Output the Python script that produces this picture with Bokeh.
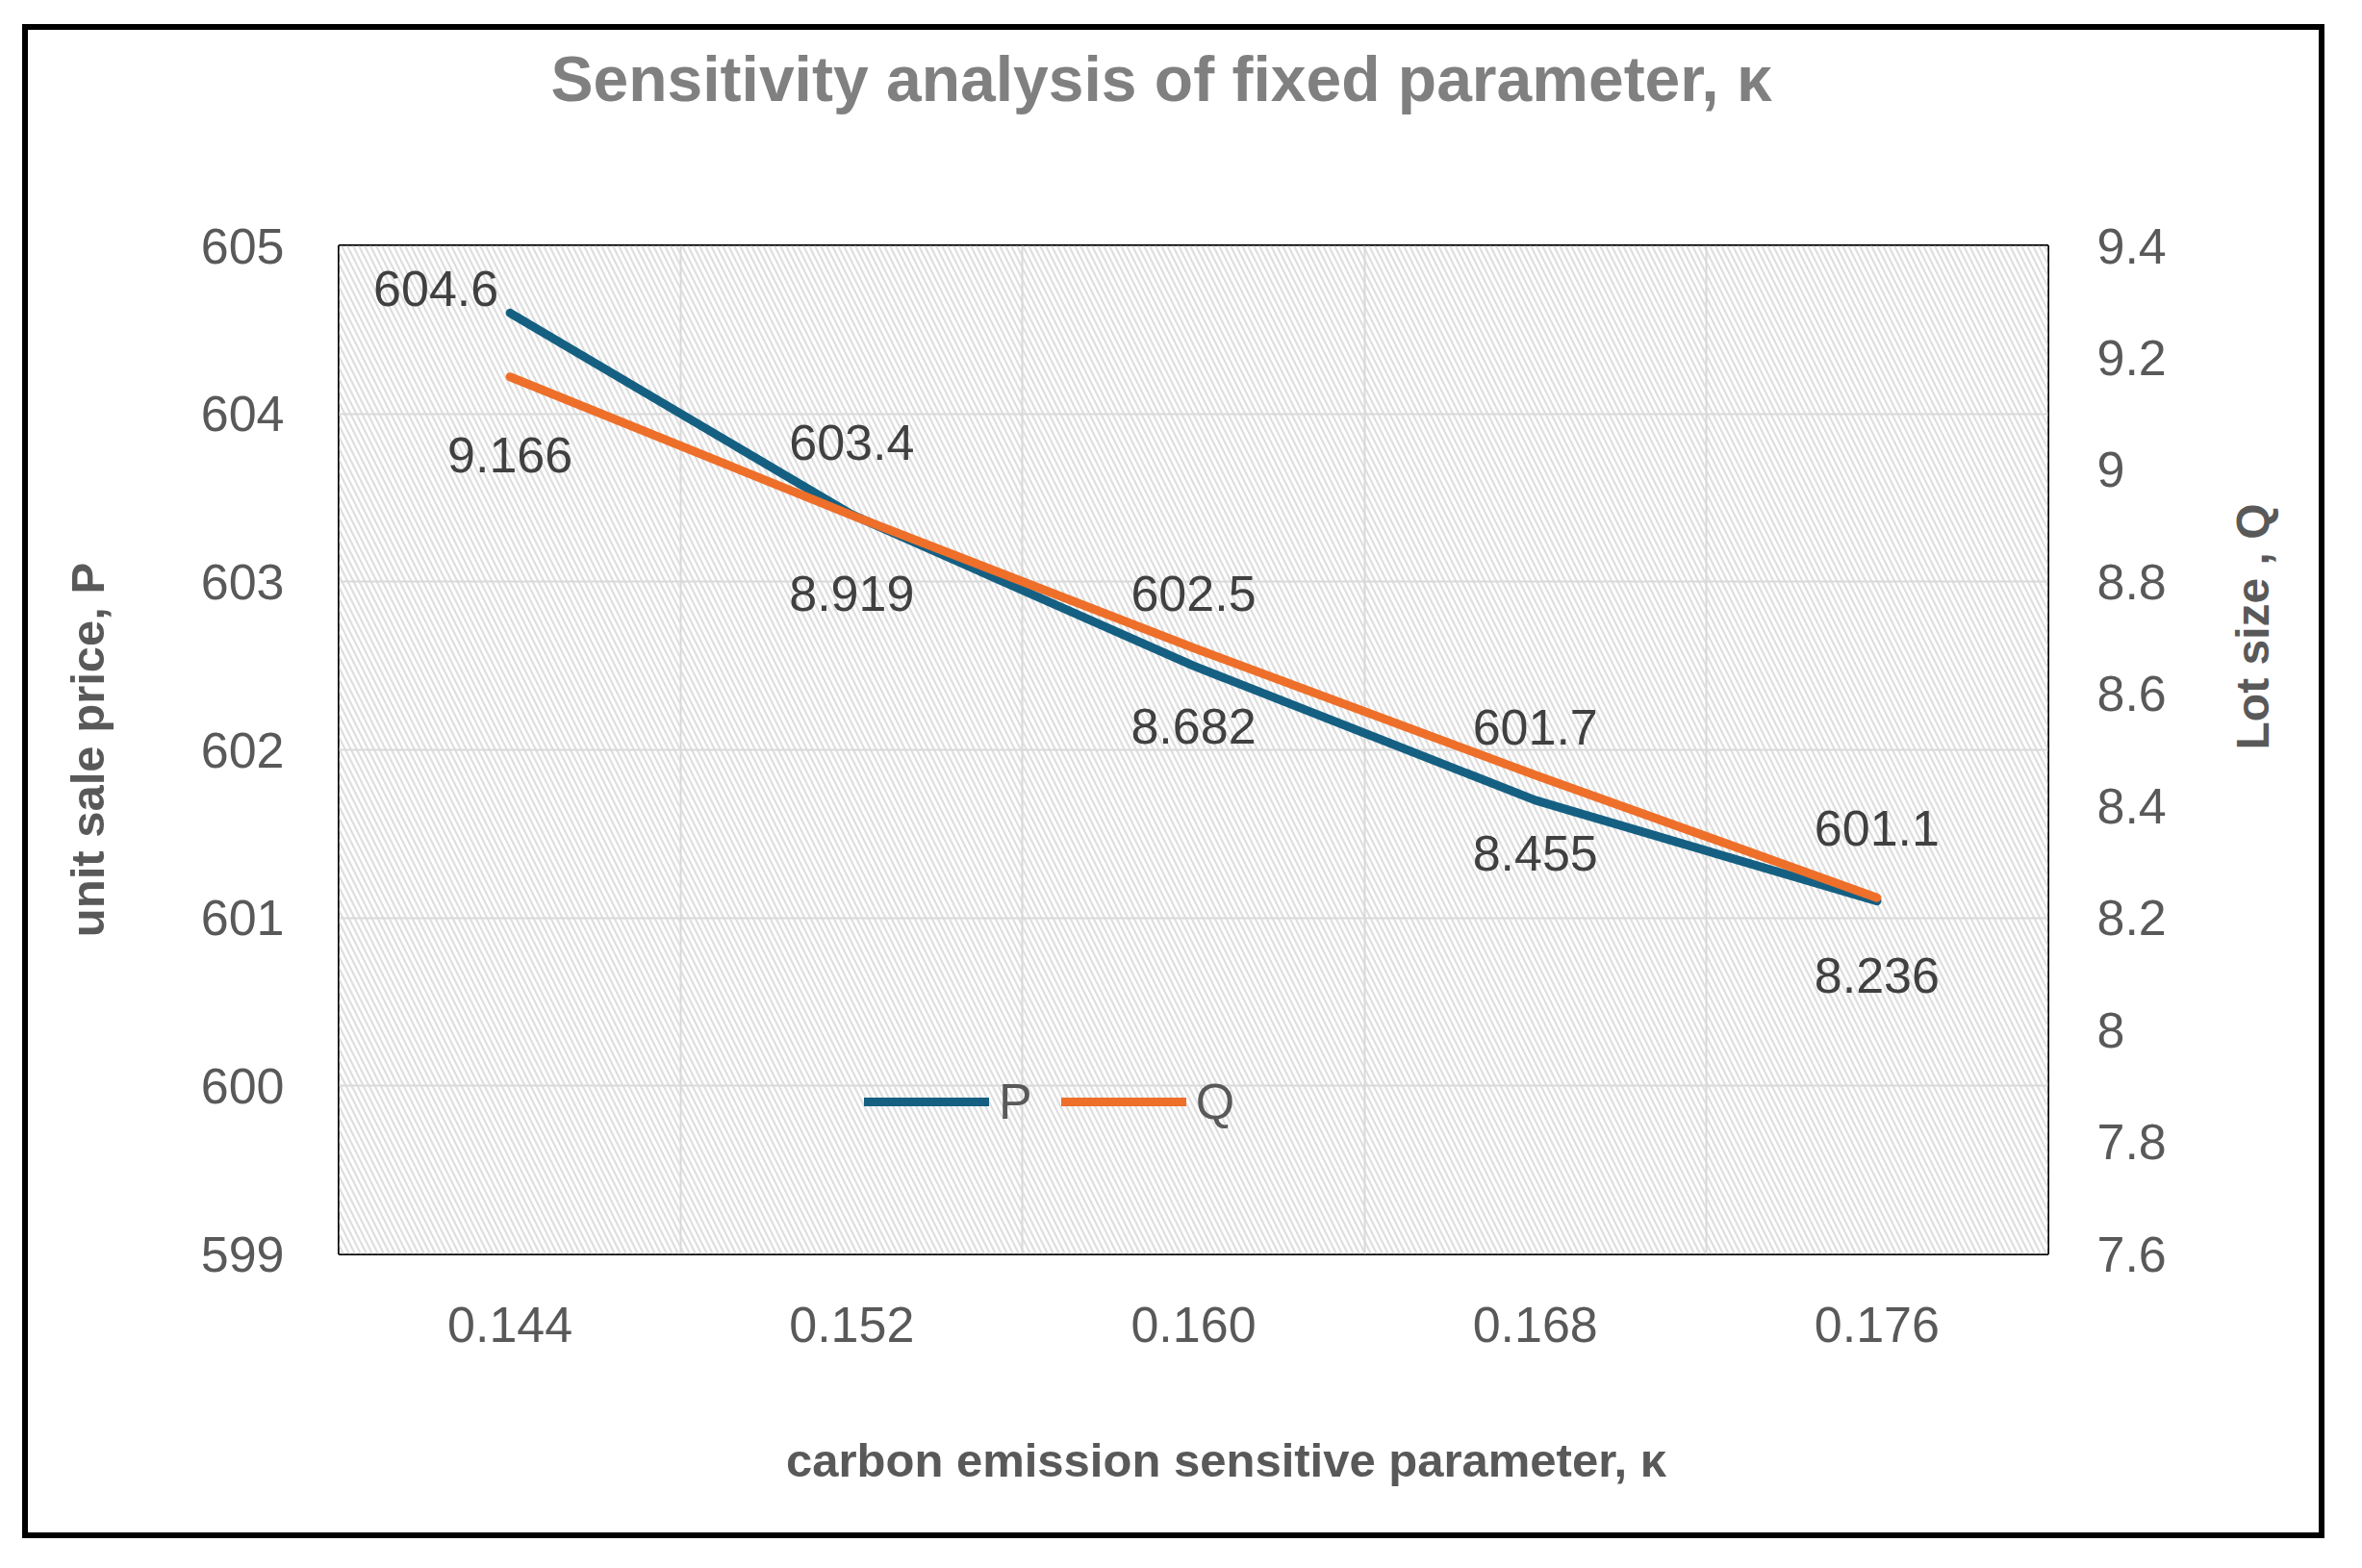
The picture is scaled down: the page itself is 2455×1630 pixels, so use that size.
import math
from bokeh.plotting import figure
from bokeh.models import (Range1d, LinearAxis, FixedTicker, BoxAnnotation, Legend,
                          LegendItem, ColumnDataSource, NumeralTickFormatter, Title)
from bokeh.embed import file_html
from bokeh.resources import INLINE
from bokeh.core.properties import value

# ---- data ----
kappa = [0.144, 0.152, 0.160, 0.168, 0.176]
P = [604.6, 603.4, 602.5, 601.7, 601.1]
Q = [9.166, 8.919, 8.682, 8.455, 8.236]
p_ticks = [599, 600, 601, 602, 603, 604, 605]
q_ticks = [7.6, 7.8, 8.0, 8.2, 8.4, 8.6, 8.8, 9.0, 9.2, 9.4]
kappa_bounds = [0.148, 0.156, 0.164, 0.172]

title_text = "Sensitivity analysis of fixed parameter, \u03ba"
xlabel = "carbon emission sensitive parameter, \u03ba"
ylabel_left = "unit sale price, P"
ylabel_right = "Lot size , Q"

FONT = "Liberation Sans"
TICK_COLOR = "#595959"
BLUE = "#156082"
ORANGE = "#EE6F2A"
NB = "\u00a0"

p = figure(width=2393, height=1574, output_backend="svg", toolbar_location=None,
           x_range=Range1d(0.140, 0.180), y_range=Range1d(599, 605),
           min_border_left=323, min_border_right=294, min_border_top=224,
           min_border_bottom=302)
p.styles = {"border": "6px solid black", "margin-left": "23px", "margin-top": "25px"}

p.extra_y_ranges = {"q": Range1d(7.6, 9.4)}

p.outline_line_color = "black"
p.outline_line_width = 3
p.background_fill_color = "white"
p.border_fill_color = "white"

# hatched plot area
bg = BoxAnnotation(fill_color="white", fill_alpha=1.0, line_alpha=0,
                   hatch_pattern="\\", hatch_color="#dedede", hatch_scale=12,
                   hatch_weight=2.2, level="image")
p.add_layout(bg)

# grids
p.ygrid.ticker = FixedTicker(ticks=p_ticks)
p.ygrid.grid_line_color = "#d9d9d9"
p.ygrid.grid_line_width = 2
p.xgrid.ticker = FixedTicker(ticks=kappa_bounds)
p.xgrid.grid_line_color = "#d9d9d9"
p.xgrid.grid_line_width = 2

def style_axis(ax, standoff, label_size, label_standoff):
    ax.axis_line_color = None
    ax.major_tick_line_color = None
    ax.minor_tick_line_color = None
    ax.major_label_text_font = FONT
    ax.major_label_text_font_size = "52px"
    ax.major_label_text_color = TICK_COLOR
    ax.major_label_standoff = standoff
    ax.axis_label_text_font = FONT
    ax.axis_label_text_font_style = "bold"
    ax.axis_label_text_font_size = label_size
    ax.axis_label_text_color = TICK_COLOR
    ax.axis_label_standoff = label_standoff

# x axis
xax = p.xaxis[0]
xax.ticker = FixedTicker(ticks=kappa)
xax.formatter = NumeralTickFormatter(format="0.000")
xax.axis_label = NB * 5 + xlabel
style_axis(xax, 49, "49px", 93)

# left axis
yax = p.yaxis[0]
yax.ticker = FixedTicker(ticks=p_ticks)
yax.axis_label = ylabel_left
style_axis(yax, 51, "49px", 88)

# right axis (label reads bottom to top)
rax = LinearAxis(y_range_name="q", ticker=FixedTicker(ticks=q_ticks),
                 formatter=NumeralTickFormatter(format="0.[0]"),
                 axis_label=ylabel_right)
style_axis(rax, 45, "48px", 87)
rax.axis_label_orientation = math.pi / 2
p.add_layout(rax, "right")

# spacer between title and plot frame
p.add_layout(Title(text=" ", text_font_size="2px", standoff=126), "above")

# title
p.title.text = title_text
p.title.align = "left"
p.title.offset = 220
p.title.vertical_align = "top"
p.title.standoff = 10
p.title.text_font = FONT
p.title.text_font_style = "bold"
p.title.text_font_size = "66px"
p.title.text_color = "#808080"

# lines
rP = p.line(kappa, P, line_color=BLUE, line_width=9, line_join="round", line_cap="round")
rQ = p.line(kappa, Q, line_color=ORANGE, line_width=9, line_join="round", line_cap="round",
            y_range_name="q")

# data labels
p_src = ColumnDataSource(dict(x=kappa, y=P, t=[f"{v}" for v in P],
                              dx=[-77, 0, 0, 0, 0], dy=[-25, -75, -75, -76, -76]))
q_src = ColumnDataSource(dict(x=kappa, y=Q, t=[f"{v}" for v in Q]))
p.text(x="x", y="y", text="t", source=p_src, x_offset="dx", y_offset="dy",
       text_align="center", text_baseline="middle", text_font=value(FONT),
       text_font_size="52px", text_color="#404040")
p.text(x="x", y="y", text="t", source=q_src, y_offset=81, y_range_name="q",
       text_align="center", text_baseline="middle", text_font=value(FONT),
       text_font_size="52px", text_color="#404040")

# legend
legend = Legend(items=[LegendItem(label="P", renderers=[rP]),
                       LegendItem(label="Q", renderers=[rQ])],
                orientation="horizontal", location=(546, 128),
                background_fill_alpha=0, border_line_alpha=0,
                glyph_width=130, glyph_height=20, label_standoff=10, spacing=30,
                padding=0, margin=0,
                label_text_font=FONT, label_text_font_size="52px",
                label_text_color=TICK_COLOR)
p.add_layout(legend)

open("out.html", "w").write(file_html(p, INLINE))
